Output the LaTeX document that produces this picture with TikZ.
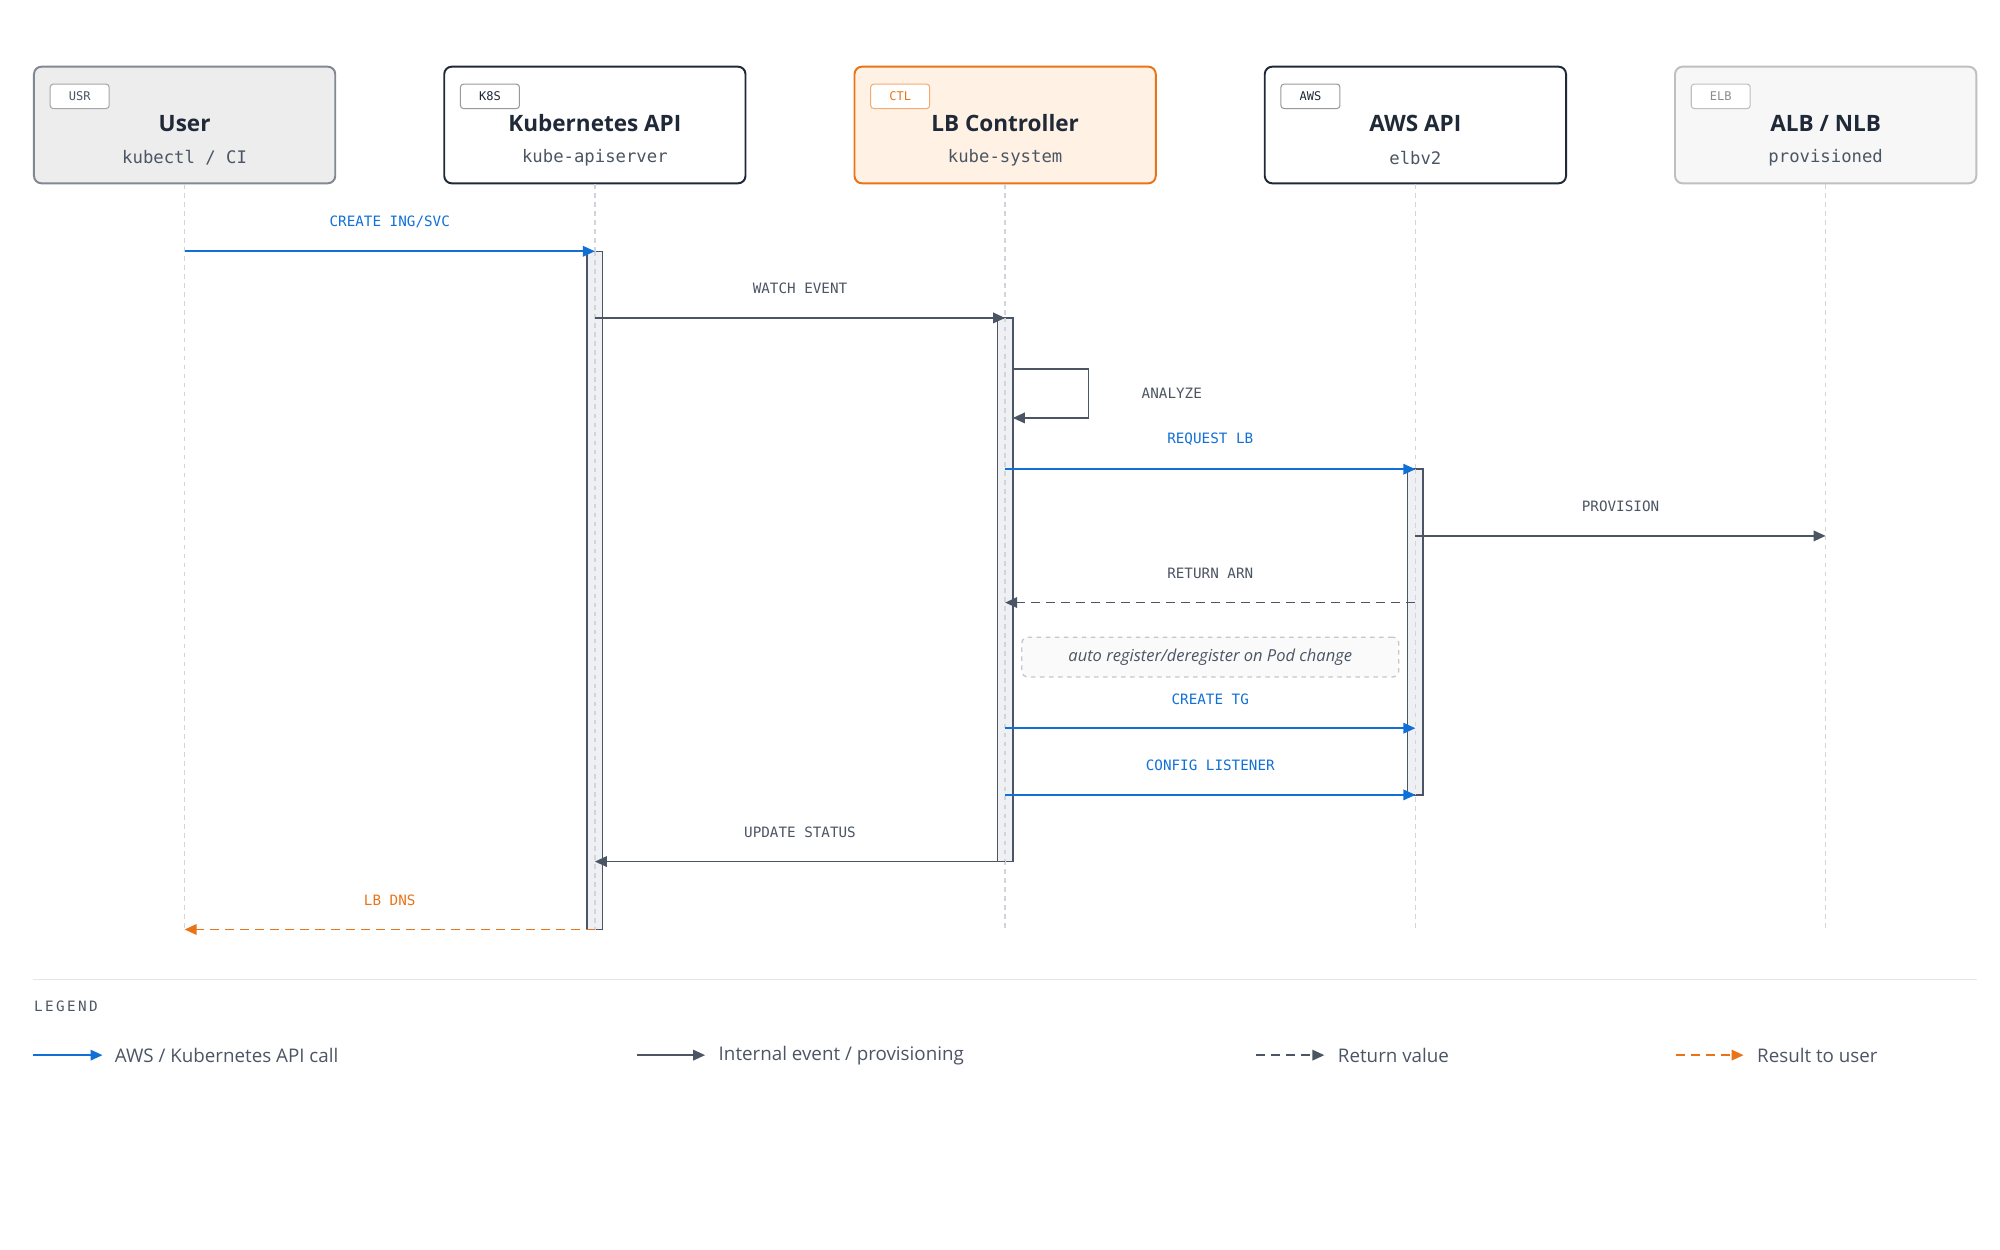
\documentclass[tikz,border=0pt]{standalone}
\usepackage{fontspec}
\setmainfont{Open Sans}
\setmonofont{DejaVu Sans Mono}
\usetikzlibrary{arrows.meta,positioning}
\definecolor{apiblue}{HTML}{1170D6}
\definecolor{evgray}{HTML}{4B5563}
\definecolor{resorange}{HTML}{EA7317}
\definecolor{inkdark}{HTML}{1F2937}
\definecolor{lifegray}{HTML}{D1D5DB}
\definecolor{actfill}{HTML}{EEF0F3}
\begin{document}
\begin{tikzpicture}[x=0.03cm,y=-0.03cm,>={Triangle[length=8pt,width=7pt]},
                    line width=1.2pt]
\tikzset{
  actor/.style={draw,rounded corners=5pt,line width=1.3pt,minimum width=235*0.03cm,minimum height=91*0.03cm},
  tag/.style={draw,rounded corners=2pt,line width=0.7pt,font=\ttfamily\fontsize{8}{9}\selectfont,minimum width=46*0.03cm,minimum height=19*0.03cm,inner sep=0pt},
  title/.style={font=\bfseries\fontsize{15}{17}\selectfont,text=inkdark},
  sub/.style={font=\ttfamily\fontsize{11.5}{13}\selectfont,text=evgray},
  life/.style={draw=lifegray,dashed,line width=1pt},
  act/.style={draw=evgray,fill=actfill,line width=1pt},
  msg/.style={font=\ttfamily\fontsize{9.5}{11}\selectfont},
  apicall/.style={->,draw=apiblue},
  internal/.style={->,draw=evgray},
  retval/.style={->,draw=evgray,dashed,dash pattern=on 6pt off 4pt},
  touser/.style={->,draw=resorange,dashed,dash pattern=on 6pt off 4pt},
  legtext/.style={font=\fontsize{12.5}{14}\selectfont,text=evgray,anchor=west}
}
\useasboundingbox (0,0) rectangle (1560,975);

% actors
\node[actor,draw=evgray!70,fill=black!7] (usr) at (144,97.5) {};
\node[actor,draw=inkdark,fill=white] (k8s) at (464,97.5) {};
\node[actor,draw=resorange,fill=orange!10] (ctl) at (784,97.5) {};
\node[actor,draw=inkdark,fill=white] (aws) at (1104,97.5) {};
\node[actor,draw=black!25,fill=black!3] (elb) at (1424,97.5) {};
\foreach \a/\t/\c/\n/\s/\tc in {usr/USR/black!35/User/{kubectl / CI}/evgray,
    k8s/K8S/black!40/Kubernetes API/kube-apiserver/inkdark,
    ctl/CTL/resorange!60/LB Controller/kube-system/resorange,
    aws/AWS/black!40/AWS API/elbv2/inkdark,
    elb/ELB/black!25/{ALB / NLB}/provisioned/black!45}{
  \node[tag,draw=\c,fill=white,text=\tc,anchor=north west] at ([xshift=13*0.03cm,yshift=-14*0.03cm]\a.north west) {\t};
  \node[title] at ([yshift=-45*0.03cm]\a.north) {\n};
  \node[sub] at ([yshift=-72*0.03cm]\a.north) {\s};
}

% lifelines
\foreach \a in {usr,k8s,ctl,aws,elb}
  \draw[life] (\a.south) -- ++(0,582);

% activations
\filldraw[act] (458,196) rectangle (470,725);
\filldraw[act] (778,248) rectangle (790,672);
\filldraw[act] (1098,366) rectangle (1110,620);
\foreach \x/\a/\b in {464/196/725,784/248/672,1104/366/620}
  \draw[life] (\x,\a) -- (\x,\b);

% messages
\coordinate (u1) at (144,196);  \coordinate (k1) at (464,196);
\coordinate (k2) at (464,248);  \coordinate (c2) at (784,248);
\coordinate (c3) at (784,366);  \coordinate (a3) at (1104,366);
\coordinate (a4) at (1104,418); \coordinate (e4) at (1424,418);
\coordinate (a5) at (1104,470); \coordinate (c5) at (784,470);
\coordinate (c6) at (784,568);  \coordinate (a6) at (1104,568);
\coordinate (c7) at (784,620);  \coordinate (a7) at (1104,620);
\coordinate (c8) at (784,672);  \coordinate (k8) at (464,672);
\coordinate (k9) at (464,725);  \coordinate (u9) at (144,725);

\draw[apicall] (u1) -- node[msg,text=apiblue,above=14*0.03cm] {CREATE ING/SVC} (k1);
\draw[internal] (k2) -- node[msg,text=evgray,above=14*0.03cm] {WATCH EVENT} (c2);
\draw[internal] (790,288) -- (849,288) -- (849,326) -- (790,326);
\node[msg,text=evgray] (ana) at (914,307) {ANALYZE};
\draw[apicall] (c3) -- node[msg,text=apiblue,above=14*0.03cm] {REQUEST LB} (a3);
\draw[internal] (a4) -- node[msg,text=evgray,above=14*0.03cm] {PROVISION} (e4);
\draw[retval] (a5) -- node[msg,text=evgray,above=14*0.03cm] {RETURN ARN} (c5);
\node[draw=black!22,dashed,line width=0.9pt,fill=black!2,rounded corners=4pt,
      minimum width=294*0.03cm,minimum height=31*0.03cm,
      font=\itshape\fontsize{11}{13}\selectfont,text=evgray] (note) at (944,512.5)
      {auto register/deregister on Pod change};
\draw[apicall] (c6) -- node[msg,text=apiblue,above=14*0.03cm] {CREATE TG} (a6);
\draw[apicall] (c7) -- node[msg,text=apiblue,above=14*0.03cm] {CONFIG LISTENER} (a7);
\draw[internal] (c8) -- node[msg,text=evgray,above=14*0.03cm] {UPDATE STATUS} (k8);
\draw[touser] (k9) -- node[msg,text=resorange,above=14*0.03cm] {LB DNS} (u9);

% legend
\draw[black!10,line width=1pt] (26,764) -- (1542,764);
\node[anchor=west,inner sep=0pt,font=\ttfamily\fontsize{9.5}{11}\selectfont,text=evgray] (leg) at (26,785) {L\,E\,G\,E\,N\,D};
\coordinate (l1a) at (26,823);   \coordinate (l1b) at (80,823);
\coordinate (l2a) at (497,823);  \coordinate (l2b) at (550,823);
\coordinate (l3a) at (980,823);  \coordinate (l3b) at (1033,823);
\coordinate (l4a) at (1307,823); \coordinate (l4b) at (1360,823);
\draw[apicall] (l1a) -- (l1b);
\node[legtext] at (85,823) {AWS / Kubernetes API call};
\draw[internal] (l2a) -- (l2b);
\node[legtext] at (556,823) {Internal event / provisioning};
\draw[retval] (l3a) -- (l3b);
\node[legtext] at (1039,823) {Return value};
\draw[touser] (l4a) -- (l4b);
\node[legtext] at (1366,823) {Result to user};
\end{tikzpicture}
\end{document}
